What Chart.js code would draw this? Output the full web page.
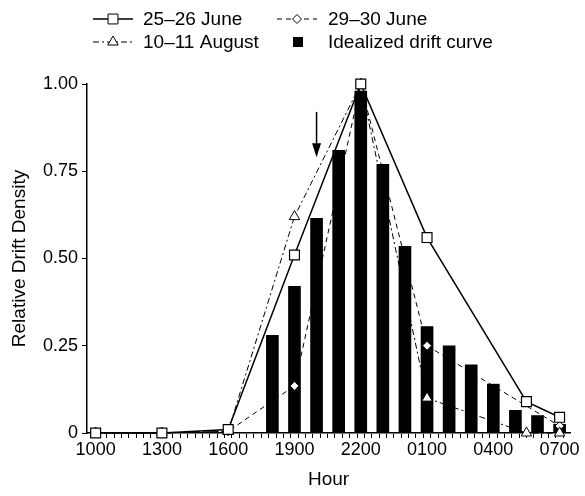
<!DOCTYPE html>
<html>
<head>
<meta charset="utf-8">
<script src="https://cdn.jsdelivr.net/npm/chart.js"></script>
<style>
  html, body { margin: 0; padding: 0; background: #fff; }
  #wrap { width: 585px; height: 496px; }
</style>
</head>
<body>
<div id="wrap"><canvas id="drift"></canvas></div>
<script>
// hours counted from midnight of the first day (0100 next day = 25)
const hourTicks = [10, 13, 16, 19, 22, 25, 28, 31];
const hourLabels = ["1000", "1300", "1600", "1900", "2200", "0100", "0400", "0700"];
const densityTicks = [0, 0.25, 0.5, 0.75, 1];
const densityLabels = ["0", "0.25", "0.50", "0.75", "1.00"];

const seriesNames = ["25\u201326 June", "29\u201330 June", "10\u201311 August", "Idealized drift curve"];

const june25Hours = [10, 13, 16, 19, 22, 25, 29.5, 31];
const june25Values = [0, 0, 0.01, 0.51, 1.0, 0.56, 0.09, 0.045];

const june29Hours = [10, 13, 16, 19, 22, 25, 31];
const june29Values = [0, 0, 0.005, 0.135, 1.0, 0.25, 0.02];

const aug10Hours = [10, 13, 16, 19, 22, 25, 29.5, 31];
const aug10Values = [0, 0, 0.005, 0.62, 1.0, 0.1, 0.0, 0.0];

const idealHours = [18, 19, 20, 21, 22, 23, 24, 25, 26, 27, 28, 29, 30, 31];
const idealValues = [0.28, 0.42, 0.615, 0.81, 0.98, 0.77, 0.535, 0.305, 0.25, 0.195, 0.14, 0.065, 0.05, 0.025];

// the arrow marking sunset
const arrowHour = 20;
const arrowTop = 0.92;
const arrowTip = 0.79;

Chart.defaults.font.family = '"Liberation Sans", Arial, Helvetica, sans-serif';
Chart.defaults.color = "#000";

function toPoints(hours, values) {
  return hours.map((h, i) => ({ x: h, y: values[i] }));
}

// one tick every 20 minutes, labels only every 3 hours
let minorTicks = [];
for (let k = 0; k <= (hourTicks[hourTicks.length - 1] - hourTicks[0]) * 3; k++) {
  minorTicks.push(hourTicks[0] + k / 3);
}

const dashes = [[], [5, 4], [6, 3, 2, 3]];

const legendPlugin = {
  id: "twoRowLegend",
  afterDraw(chart) {
    const ctx = chart.ctx;
    const spots = [[93, 19], [277, 19], [93, 42], [277, 42]];
    ctx.save();
    ctx.font = '19px "Liberation Sans", Arial, sans-serif';
    ctx.textBaseline = "middle";
    ctx.fillStyle = "#000";
    chart.data.datasets.forEach((ds, i) => {
      const idx = seriesNames.indexOf(ds.label);
      const [sx, sy] = spots[idx];
      if (ds.type === "bar") {
        ctx.fillStyle = "#000";
        ctx.fillRect(sx + 16, sy - 5, 10, 10);
      } else {
        ctx.strokeStyle = "#000";
        ctx.lineWidth = ds.borderWidth;
        ctx.setLineDash(ds.borderDash);
        ctx.beginPath();
        ctx.moveTo(sx, sy);
        ctx.lineTo(sx + 40, sy);
        ctx.stroke();
        ctx.setLineDash([]);
        ctx.fillStyle = "#fff";
        ctx.lineWidth = 1;
        Chart.helpers.drawPoint(ctx, { pointStyle: ds.pointStyle, radius: ds.pointRadius, borderWidth: 1, rotation: 0 }, sx + 20, sy);
      }
      ctx.fillStyle = "#000";
      ctx.fillText(ds.label, idx % 2 === 0 ? 143 : 328, sy + 1);
    });
    ctx.restore();
  }
};

const arrowPlugin = {
  id: "sunsetArrow",
  afterDatasetsDraw(chart) {
    const ctx = chart.ctx;
    const x = chart.scales.x.getPixelForValue(arrowHour);
    const y0 = chart.scales.y.getPixelForValue(arrowTop);
    const y1 = chart.scales.y.getPixelForValue(arrowTip);
    ctx.save();
    ctx.strokeStyle = "#000";
    ctx.fillStyle = "#000";
    ctx.lineWidth = 1.5;
    ctx.beginPath();
    ctx.moveTo(x, y0);
    ctx.lineTo(x, y1 - 12);
    ctx.stroke();
    ctx.beginPath();
    ctx.moveTo(x - 4.5, y1 - 14);
    ctx.lineTo(x + 4.5, y1 - 14);
    ctx.lineTo(x, y1);
    ctx.closePath();
    ctx.fill();
    ctx.restore();
  }
};

new Chart("drift", {
  data: {
    datasets: [
      {
        type: "line",
        label: seriesNames[0],
        data: toPoints(june25Hours, june25Values),
        borderColor: "#000",
        borderWidth: 1.5,
        borderDash: dashes[0],
        pointStyle: "rect",
        pointRadius: 7,
        pointBackgroundColor: "#fff",
        pointBorderColor: "#000",
        pointBorderWidth: 1.2,
        tension: 0,
        clip: false,
        order: 1
      },
      {
        type: "line",
        label: seriesNames[1],
        data: toPoints(june29Hours, june29Values),
        borderColor: "#000",
        borderWidth: 1,
        borderDash: dashes[1],
        pointStyle: "rectRot",
        pointRadius: 4.5,
        pointBackgroundColor: "#fff",
        pointBorderColor: "#000",
        pointBorderWidth: 1,
        tension: 0,
        clip: false,
        order: 3
      },
      {
        type: "line",
        label: seriesNames[2],
        data: toPoints(aug10Hours, aug10Values),
        borderColor: "#000",
        borderWidth: 1,
        borderDash: dashes[2],
        pointStyle: "triangle",
        pointRadius: 6,
        pointBackgroundColor: "#fff",
        pointBorderColor: "#000",
        pointBorderWidth: 1,
        tension: 0,
        clip: false,
        order: 2
      },
      {
        type: "bar",
        label: seriesNames[3],
        data: toPoints(idealHours, idealValues),
        backgroundColor: "#000",
        borderWidth: 0,
        barThickness: 12,
        order: 10
      }
    ]
  },
  options: {
    responsive: true,
    maintainAspectRatio: false,
    animation: false,
    layout: { padding: { top: 84, right: 15, left: 0, bottom: 0 } },
    plugins: {
      legend: { display: false },
      tooltip: { enabled: false }
    },
    scales: {
      x: {
        type: "linear",
        min: 9.78,
        max: 31.3,
        afterBuildTicks: (s) => { s.ticks = minorTicks.map((v) => ({ value: v })); },
        afterFit: (s) => { s.height = 63; },
        grid: { drawOnChartArea: false, tickLength: 5, tickColor: "#000", tickWidth: 1 },
        border: { color: "#000", width: 1.5 },
        ticks: {
          autoSkip: false,
          maxRotation: 0,
          padding: 1,
          font: { size: 18 },
          color: "#000",
          callback: (v) => {
            const i = hourTicks.findIndex((h) => Math.abs(h - v) < 1e-6);
            return i >= 0 ? hourLabels[i] : "";
          }
        },
        title: { display: true, text: "Hour", font: { size: 19 }, color: "#000", padding: { top: 0, bottom: 5 } }
      },
      y: {
        type: "linear",
        min: 0,
        max: 1,
        afterBuildTicks: (s) => { s.ticks = densityTicks.map((v) => ({ value: v })); },
        afterFit: (s) => { s.width = 87; },
        grid: { drawOnChartArea: false, tickLength: 5, tickColor: "#000", tickWidth: 1 },
        border: { color: "#000", width: 1.5 },
        ticks: {
          padding: 4,
          font: { size: 18 },
          color: "#000",
          callback: (v, i) => densityLabels[i]
        },
        title: { display: true, text: "Relative Drift Density", font: { size: 19 }, color: "#000", padding: { top: 8, bottom: 0 } }
      }
    }
  },
  plugins: [legendPlugin, arrowPlugin]
});
</script>
</body>
</html>
